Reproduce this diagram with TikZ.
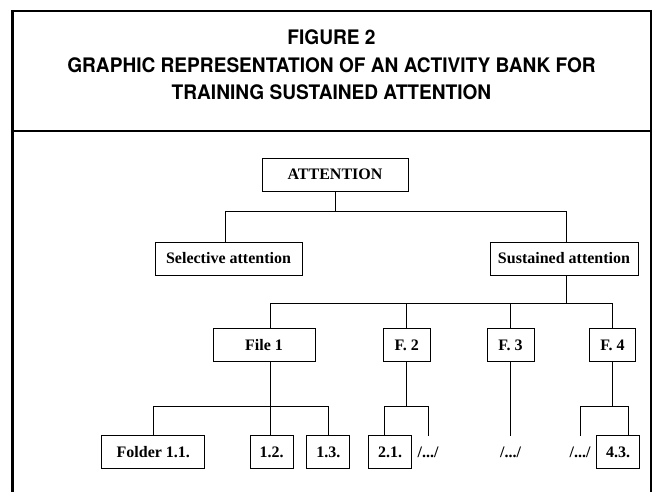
\documentclass[tikz,border=0pt]{standalone}
\usepackage{fontspec}
\setmainfont{Liberation Serif}
\newfontfamily\headfont[FakeStretch=0.955]{TeX Gyre Heros}
\usepackage{tikz}
\usetikzlibrary{calc,positioning}

\begin{document}
\begin{tikzpicture}[x=1pt, y=-1pt, line width=0.9pt]
   \useasboundingbox (0,0) rectangle (653,492);
   \draw[line width=2.4pt] (12.5,492) -- (12.5,11.3) -- (651,11.3) -- (651,492);
   \draw[line width=2.4pt] (12.5,131.3) -- (651,131.3);
   \node (title) [font=\headfont\bfseries\fontsize{20}{27.5}\selectfont, align=center] at (331.5,65)
      {FIGURE 2\\GRAPHIC REPRESENTATION OF AN ACTIVITY BANK FOR\\TRAINING SUSTAINED ATTENTION};
   \begin{scope}[every node/.style={draw, minimum height=33pt, inner sep=0pt, font=\bfseries\fontsize{16}{19}\selectfont}]
    \node (att) [minimum width=146pt] at (335,174.5) {ATTENTION};
    \node (sel) [minimum width=147pt] at (228.5,258.5) {Selective attention};
    \node (sus) [minimum width=148pt] at (564,258.5) {Sustained attention};
    \node (f1) [minimum width=102pt] at (264,345) {File 1};
    \node (f2) [minimum width=47pt] at (406.7,345) {F. 2};
    \node (f3) [minimum width=47pt] at (510.5,345) {F. 3};
    \node (f4) [minimum width=46pt] at (612.5,345) {F. 4};
    \node (fo11) [minimum width=103pt] at (153.3,452.3) {Folder 1.1.};
    \node (f12) [minimum width=43pt] at (271.5,452.3) {1.2.};
    \node (f13) [minimum width=43pt] at (328.3,452.3) {1.3.};
    \node (f21) [minimum width=43pt] at (390,452.3) {2.1.};
    \node (f43) [minimum width=43pt] at (618,452.3) {4.3.};
   \end{scope}
   \begin{scope}[every node/.style={minimum height=33pt, inner sep=0pt, font=\bfseries\fontsize{16}{19}\selectfont}]
    \node (d2) at (428,452.3) {/.../};
    \node (d3) at (510.5,452.3) {/.../};
    \node (d4) at (580,452.3) {/.../};
   \end{scope}
   \begin{scope}[line cap=rect]
    \draw (att.south) -- ++(0,20) coordinate (j1);
    \draw ([xshift=-3.5pt]sel.north) |- (j1) -| ([xshift=2pt]sus.north);
    \draw ([xshift=2pt]sus.south) -- ++(0,27.7) coordinate (j2);
    \draw ([xshift=6pt]f1.north) |- (j2) -| (f4.north);
    \draw (f2.north) -- (f2.north |- j2);
    \draw (f3.north) -- (f3.north |- j2);
    \draw ([xshift=6pt]f1.south) -- ++(0,44) coordinate (j3);
    \draw (fo11.north) |- (j3) -| (f13.north);
    \draw ([xshift=-1.5pt]f12.north) -- (j3);
    \draw (f2.south) -- ++(0,44) coordinate (j4);
    \draw ([xshift=-6pt]f21.north) |- (j4) -| (d2.north);
    \draw (f3.south) -- (d3.north);
    \draw (f4.south) -- ++(0,44) coordinate (j5);
    \draw (d4.north) |- (j5) -| ([xshift=10pt]f43.north);
   \end{scope}
\end{tikzpicture}
\end{document}
